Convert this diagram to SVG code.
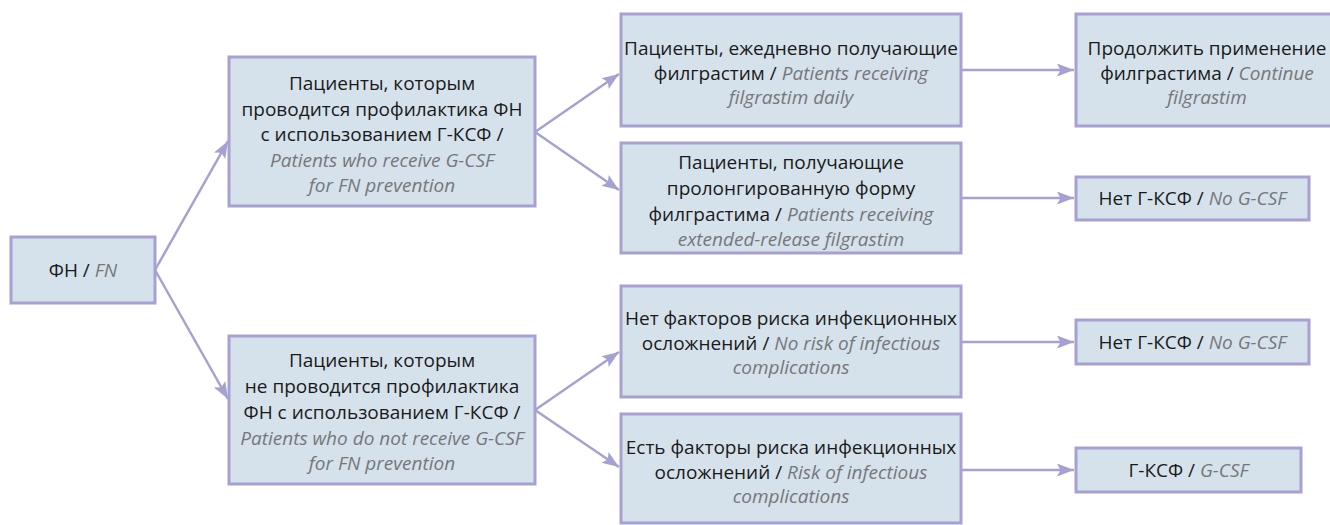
<svg xmlns="http://www.w3.org/2000/svg" width="1330" height="525" viewBox="0 0 1330 525">
<style>
.box{fill:#d5e2eb;stroke:#a7a1d1;stroke-width:3}
.t{font-family:"Open Sans","Noto Sans",sans-serif;font-size:19px;fill:#1a1a1a;text-anchor:middle}
.e{fill:#76777a;font-style:italic}
.c{stroke:#a7a1d1;stroke-width:2.5;fill:none}
</style>
<defs>
<marker id="ah" markerUnits="userSpaceOnUse" markerWidth="18" markerHeight="14" refX="17" refY="6.5" orient="auto">
<path d="M0,0 L17,6.5 L0,13 L3.5,6.5 z" fill="#a7a1d1"/>
</marker>
</defs>
<rect width="1330" height="525" fill="#ffffff"/>
<g id="connectors">
<line class="c" x1="155" y1="270" x2="228" y2="141" marker-end="url(#ah)"/>
<line class="c" x1="155" y1="270" x2="228" y2="399" marker-end="url(#ah)"/>
<line class="c" x1="535" y1="132" x2="619" y2="74" marker-end="url(#ah)"/>
<line class="c" x1="535" y1="132" x2="619" y2="190" marker-end="url(#ah)"/>
<line class="c" x1="535" y1="410" x2="619" y2="352" marker-end="url(#ah)"/>
<line class="c" x1="535" y1="410" x2="619" y2="467" marker-end="url(#ah)"/>
<line class="c" x1="961" y1="70" x2="1074" y2="70" marker-end="url(#ah)"/>
<line class="c" x1="961" y1="198" x2="1074" y2="198" marker-end="url(#ah)"/>
<line class="c" x1="961" y1="342" x2="1074" y2="342" marker-end="url(#ah)"/>
<line class="c" x1="961" y1="470" x2="1074" y2="470" marker-end="url(#ah)"/>
</g>
<g id="n-fn">
<rect class="box" x="11" y="237" width="144" height="66"/>
<text class="t" x="83" y="277">ФН / <tspan class="e">FN</tspan></text>
</g>
<g id="n-gcsf-prev">
<rect class="box" x="229" y="57" width="306" height="149"/>
<text class="t" x="382" y="90">Пациенты, которым</text>
<text class="t" x="382" y="115.5">проводится профилактика ФН</text>
<text class="t" x="382" y="141">с использованием Г-КСФ /</text>
<text class="t e" x="382" y="166.5">Patients who receive G-CSF</text>
<text class="t e" x="382" y="192">for FN prevention</text>
</g>
<g id="n-no-prev">
<rect class="box" x="229" y="336" width="306" height="148"/>
<text class="t" x="382" y="367">Пациенты, которым</text>
<text class="t" x="382" y="393">не проводится профилактика</text>
<text class="t" x="382" y="419">ФН с использованием Г-КСФ /</text>
<text class="t e" x="382" y="445">Patients who do not receive G-CSF</text>
<text class="t e" x="382" y="470">for FN prevention</text>
</g>
<g id="n-daily">
<rect class="box" x="621" y="14" width="340" height="112"/>
<text class="t" x="791" y="55">Пациенты, ежедневно получающие</text>
<text class="t" x="791" y="80">филграстим / <tspan class="e">Patients receiving</tspan></text>
<text class="t e" x="791" y="104">filgrastim daily</text>
</g>
<g id="n-extended">
<rect class="box" x="621" y="143" width="340" height="110"/>
<text class="t" x="791" y="169">Пациенты, получающие</text>
<text class="t" x="791" y="195">пролонгированную форму</text>
<text class="t" x="791" y="221">филграстима / <tspan class="e">Patients receiving</tspan></text>
<text class="t e" x="791" y="246">extended-release filgrastim</text>
</g>
<g id="n-norisk">
<rect class="box" x="621" y="286" width="340" height="111"/>
<text class="t" x="791" y="325">Нет факторов риска инфекционных</text>
<text class="t" x="791" y="350">осложнений / <tspan class="e">No risk of infectious</tspan></text>
<text class="t e" x="791" y="374">complications</text>
</g>
<g id="n-risk">
<rect class="box" x="621" y="414" width="340" height="109"/>
<text class="t" x="791" y="454">Есть факторы риска инфекционных</text>
<text class="t" x="791" y="479">осложнений / <tspan class="e">Risk of infectious</tspan></text>
<text class="t e" x="791" y="503">complications</text>
</g>
<g id="n-continue">
<rect class="box" x="1076" y="14" width="262" height="112"/>
<text class="t" x="1207" y="55">Продолжить применение</text>
<text class="t" x="1207" y="80">филграстима / <tspan class="e">Continue</tspan></text>
<text class="t e" x="1207" y="104">filgrastim</text>
</g>
<g id="n-nogcsf1">
<rect class="box" x="1076" y="177" width="233" height="43"/>
<text class="t" x="1192.5" y="205">Нет Г-КСФ / <tspan class="e">No G-CSF</tspan></text>
</g>
<g id="n-nogcsf2">
<rect class="box" x="1076" y="320" width="233" height="44"/>
<text class="t" x="1192.5" y="349">Нет Г-КСФ / <tspan class="e">No G-CSF</tspan></text>
</g>
<g id="n-gcsf">
<rect class="box" x="1076" y="448" width="225" height="44"/>
<text class="t" x="1188.5" y="477">Г-КСФ / <tspan class="e">G-CSF</tspan></text>
</g>
</svg>
